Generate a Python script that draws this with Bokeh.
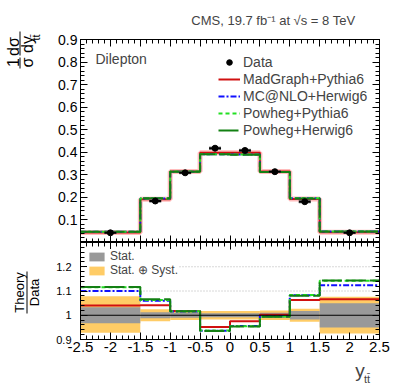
import numpy as np
from bokeh.plotting import figure
from bokeh.layouts import column, row
from bokeh.models import (Range1d, FixedTicker, LinearAxis, Label, Legend,
                          LegendItem, Span)
from bokeh.core.properties import value
from bokeh.embed import file_html
from bokeh.resources import INLINE

# ---------------- data ----------------
EDGES = [-2.5, -1.5, -1.0, -0.5, 0.0, 0.5, 1.0, 1.5, 2.5]
CENTERS = [-2.0, -1.25, -0.75, -0.25, 0.25, 0.75, 1.25, 2.0]
DATA = [0.043, 0.184, 0.309, 0.418, 0.408, 0.314, 0.181, 0.043]
DATA_ERR = [0.003, 0.005, 0.004, 0.005, 0.005, 0.004, 0.005, 0.003]

MADGRAPH = [0.0447, 0.1915, 0.3146, 0.3979, 0.3978, 0.3146, 0.1924, 0.0458]
MCATNLO = [0.0473, 0.1950, 0.3136, 0.3912, 0.3900, 0.3127, 0.1958, 0.0483]
POWHEG_PYTHIA = [0.0479, 0.1956, 0.3143, 0.3917, 0.3896, 0.3124, 0.1960, 0.0491]
POWHEG_HERWIG = [0.0480, 0.1961, 0.3139, 0.3908, 0.3892, 0.3121, 0.1955, 0.0491]

R_MADGRAPH = [1.040, 1.041, 1.018, 0.952, 0.975, 1.002, 1.063, 1.066]
R_MCATNLO = [1.100, 1.060, 1.015, 0.936, 0.956, 0.996, 1.082, 1.124]
R_POWHEG_PYTHIA = [1.115, 1.063, 1.017, 0.937, 0.955, 0.995, 1.083, 1.142]
R_POWHEG_HERWIG = [1.117, 1.066, 1.016, 0.935, 0.954, 0.994, 1.080, 1.143]

STAT = [0.033, 0.012, 0.010, 0.008, 0.008, 0.010, 0.018, 0.050]
TOT_UP = [0.078, 0.025, 0.020, 0.018, 0.018, 0.020, 0.027, 0.076]
TOT_DN = [0.072, 0.025, 0.020, 0.018, 0.018, 0.020, 0.027, 0.075]

X_TICKS = [-2.5, -2.0, -1.5, -1.0, -0.5, 0.0, 0.5, 1.0, 1.5, 2.0, 2.5]
X_TICK_LABELS = ["-2.5", "-2", "-1.5", "-1", "-0.5", "0", "0.5", "1", "1.5", "2", "2.5"]
Y_TICKS_TOP = [0.1, 0.2, 0.3, 0.4, 0.5, 0.6, 0.7, 0.8, 0.9]
Y_TICK_LABELS_TOP = ["0.1", "0.2", "0.3", "0.4", "0.5", "0.6", "0.7", "0.8", "0.9"]
Y_TICKS_RATIO = [0.9, 1.0, 1.1, 1.2]
Y_TICK_LABELS_RATIO = ["0.9", "1", "1.1", "1.2"]

FONT = "Liberation Sans"
RED = "#d01010"
BLUE = "#1010ff"
LGREEN = "#22e022"
DGREEN = "#138013"
GREY = "#999999"
ORANGE = "#ffcc66"

PAGE_H = 383


def step_xy(vals):
    xs, ys = [], []
    for i, v in enumerate(vals):
        xs += [EDGES[i], EDGES[i + 1]]
        ys += [v, v]
    return xs, ys


def minor(a, b, step):
    return [round(v, 4) for v in np.arange(a, b + step / 2, step)]


def style_axis(ax, ticks, minor_ticks, labels=None, fs="14px", standoff=3):
    ax.ticker = FixedTicker(ticks=ticks, minor_ticks=minor_ticks)
    ax.major_tick_in = 7
    ax.major_tick_out = 0
    ax.minor_tick_in = 4
    ax.minor_tick_out = 0
    ax.axis_line_color = "black"
    ax.major_tick_line_color = "black"
    ax.minor_tick_line_color = "black"
    if labels is not None:
        ax.major_label_overrides = {t: l for t, l in zip(ticks, labels)}
        ax.major_label_text_font = FONT
        ax.major_label_text_font_size = fs
        ax.major_label_text_color = "black"
        ax.major_label_standoff = standoff
    else:
        ax.major_label_text_font_size = "0px"
        ax.major_label_standoff = 0


def blank(width, height, x0, x1, y_top):
    # plain figure whose frame fills its canvas; coordinates are page pixels
    f = figure(width=width, height=height, x_range=Range1d(x0, x1),
               y_range=Range1d(PAGE_H - y_top - height, PAGE_H - y_top),
               output_backend="svg",
               toolbar_location=None, x_axis_location=None, y_axis_location=None,
               min_border_left=0, min_border_right=0, min_border_top=0,
               min_border_bottom=0)
    f.grid.visible = False
    f.outline_line_color = None
    f.background_fill_color = "white"
    f.border_fill_color = "white"
    return f


def py(y):
    return PAGE_H - y


X_MINOR = minor(-2.5, 2.5, 0.1)
LEFT_W = 45
RIGHT_W = 346

# ---------------- header (title text) ----------------
header = blank(RIGHT_W, 31, LEFT_W, LEFT_W + RIGHT_W, 0)
header.add_layout(Label(x=363, y=py(20), text="CMS, 19.7 fb\u207b\u00b9 at \u221as = 8 TeV",
                        text_align="right", text_baseline="middle",
                        text_font=FONT, text_font_size="13px"))

# ---------------- top panel ----------------
top = figure(width=RIGHT_W, height=211, x_range=Range1d(-2.5, 2.5),
             y_range=Range1d(0, 0.9), output_backend="svg",
             toolbar_location=None, x_axis_location=None, y_axis_location=None,
             min_border_left=35, min_border_right=12, min_border_top=8,
             min_border_bottom=0)
top.grid.visible = False
top.outline_line_color = "black"
top.background_fill_color = "white"
top.border_fill_color = "white"

ax = LinearAxis(); style_axis(ax, Y_TICKS_TOP, minor(0, 0.9, 0.02), Y_TICK_LABELS_TOP, "14px", 3)
top.add_layout(ax, "left")
ax = LinearAxis(); style_axis(ax, Y_TICKS_TOP, minor(0, 0.9, 0.02))
top.add_layout(ax, "right")
ax = LinearAxis(); style_axis(ax, X_TICKS, X_MINOR)
top.add_layout(ax, "above")
ax = LinearAxis(); style_axis(ax, X_TICKS, X_MINOR)
top.add_layout(ax, "below")

xs, ys = step_xy(MADGRAPH)
top.line(xs, ys, line_color="#ff9090", line_width=5, line_alpha=0.6)
r_mg = top.line(xs, ys, line_color=RED, line_width=2)
xs, ys = step_xy(MCATNLO)
r_mc = top.line(xs, ys, line_color=BLUE, line_width=2, line_dash="6 2 2 2")
xs, ys = step_xy(POWHEG_PYTHIA)
r_pp = top.line(xs, ys, line_color=LGREEN, line_width=2, line_dash="4 3")
xs, ys = step_xy(POWHEG_HERWIG)
r_ph = top.line(xs, ys, line_color=DGREEN, line_width=2, line_dash="20 4")

XB = 0.1
up = [d + e for d, e in zip(DATA, DATA_ERR)]
dn = [d - e for d, e in zip(DATA, DATA_ERR)]
top.segment(x0=[c - XB for c in CENTERS], x1=[c + XB for c in CENTERS],
            y0=up, y1=up, line_color="#777777", line_width=1)
top.segment(x0=[c - XB for c in CENTERS], x1=[c + XB for c in CENTERS],
            y0=dn, y1=dn, line_color="#777777", line_width=1)
top.segment(x0=CENTERS, x1=CENTERS, y0=dn, y1=up, line_color="black", line_width=1)
top.segment(x0=[c - XB for c in CENTERS], x1=[c + XB for c in CENTERS],
            y0=DATA, y1=DATA, line_color="black", line_width=2)
r_data = top.scatter(CENTERS, DATA, size=6, color="black")

leg = Legend(items=[LegendItem(label="Data", renderers=[r_data]),
                    LegendItem(label="MadGraph+Pythia6", renderers=[r_mg]),
                    LegendItem(label="MC@NLO+Herwig6", renderers=[r_mc]),
                    LegendItem(label="Powheg+Pythia6", renderers=[r_pp]),
                    LegendItem(label="Powheg+Herwig6", renderers=[r_ph])],
             location=(138, 104), glyph_width=22, glyph_height=14,
             label_height=14, spacing=1, padding=0, margin=0,
             label_standoff=3, label_text_font=FONT, label_text_font_size="14px",
             border_line_color=None, background_fill_alpha=0)
top.add_layout(leg)

top.add_layout(Label(x=-2.249, y=0.8136, text="Dilepton", text_align="left",
                     text_baseline="middle", text_font=FONT, text_font_size="14px"))

# ---------------- ratio panel ----------------
rat = figure(width=RIGHT_W, height=118, x_range=top.x_range,
             y_range=Range1d(0.9, 1.3), output_backend="svg",
             toolbar_location=None, x_axis_location=None, y_axis_location=None,
             min_border_left=35, min_border_right=12, min_border_top=0,
             min_border_bottom=21)
rat.grid.visible = False
rat.outline_line_color = "black"
rat.background_fill_color = "white"
rat.border_fill_color = "white"

R_MINOR = minor(0.9, 1.3, 0.02)
ax = LinearAxis(); style_axis(ax, Y_TICKS_RATIO, R_MINOR, Y_TICK_LABELS_RATIO, "11px", 9)
rat.add_layout(ax, "left")
ax = LinearAxis(); style_axis(ax, Y_TICKS_RATIO, R_MINOR)
rat.add_layout(ax, "right")
ax = LinearAxis(); style_axis(ax, X_TICKS, X_MINOR)
rat.add_layout(ax, "above")
ax = LinearAxis(); style_axis(ax, X_TICKS, X_MINOR, X_TICK_LABELS, "15px", 2)
rat.add_layout(ax, "below")

for loc in [1.1, 1.2]:
    rat.add_layout(Span(location=loc, dimension="width", line_color="#b0b0b0",
                        line_dash="1 2", line_width=1, level="underlay"))

r_tot = rat.quad(left=EDGES[:-1], right=EDGES[1:],
                 bottom=[1 - d for d in TOT_DN], top=[1 + u for u in TOT_UP],
                 fill_color=ORANGE, line_color=None)
r_stat = rat.quad(left=EDGES[:-1], right=EDGES[1:],
                  bottom=[1 - s for s in STAT], top=[1 + s for s in STAT],
                  fill_color=GREY, line_color=None)
rat.add_layout(Span(location=1.0, dimension="width", line_color="black",
                    line_width=1, level="glyph"))

xs, ys = step_xy(R_MADGRAPH)
rat.line(xs, ys, line_color=RED, line_width=2)
xs, ys = step_xy(R_MCATNLO)
rat.line(xs, ys, line_color=BLUE, line_width=2, line_dash="6 2 2 2")
xs, ys = step_xy(R_POWHEG_PYTHIA)
rat.line(xs, ys, line_color=LGREEN, line_width=2, line_dash="4 3")
xs, ys = step_xy(R_POWHEG_HERWIG)
rat.line(xs, ys, line_color=DGREEN, line_width=2, line_dash="20 4")

leg2 = Legend(items=[LegendItem(label="Stat.", renderers=[r_stat]),
                     LegendItem(label="Stat. \u2295 Syst.", renderers=[r_tot])],
              location=(7, 62), glyph_width=19, glyph_height=11, label_height=12,
              spacing=0, padding=3, margin=0, label_standoff=4,
              label_text_font=FONT, label_text_font_size="12px",
              border_line_color=None, background_fill_color="white",
              background_fill_alpha=1)
rat.add_layout(leg2)

# ---------------- footer (x-axis title) ----------------
footer = blank(RIGHT_W, 23, LEFT_W, LEFT_W + RIGHT_W, 360)
footer.add_layout(Label(x=363, y=py(370), text="y", text_align="left",
                        text_baseline="alphabetic", text_font=FONT,
                        text_font_size="19px"))
footer.add_layout(Label(x=373, y=py(378), text="tt\u0304", text_align="left",
                        text_baseline="alphabetic", text_font=FONT,
                        text_font_size="11px"))

# ---------------- left strip (rotated y-axis titles) ----------------
side = blank(LEFT_W, PAGE_H, 0, LEFT_W, 0)
TXT = ["1", "\u03c3", "d\u03c3", "dy", "tt\u0304", "Theory", "Data"]
TX = [12.5, 27, 12.5, 26.5, 35, 19, 33.5]
TY = [py(v) for v in [62, 62, 46, 44, 37, 292, 292]]
TS = ["16px", "16px", "16px", "16px", "11px", "13px", "13px"]
for t, x, y, s in zip(TXT, TX, TY, TS):
    side.text(x=[x], y=[y], text=[t], angle=np.pi / 2, text_align="center",
              text_baseline="middle", text_font=value(FONT),
              text_font_size=s, text_color="black")
side.segment(x0=[19.5, 19.5, 26.5], x1=[19.5, 19.5, 26.5],
             y0=[py(57), py(31), py(271)], y1=[py(68), py(55), py(313)],
             line_color="black", line_width=1)

layout = row(side, column(header, top, rat, footer, spacing=0), spacing=0)
open("out.html", "w").write(file_html(layout, INLINE))
